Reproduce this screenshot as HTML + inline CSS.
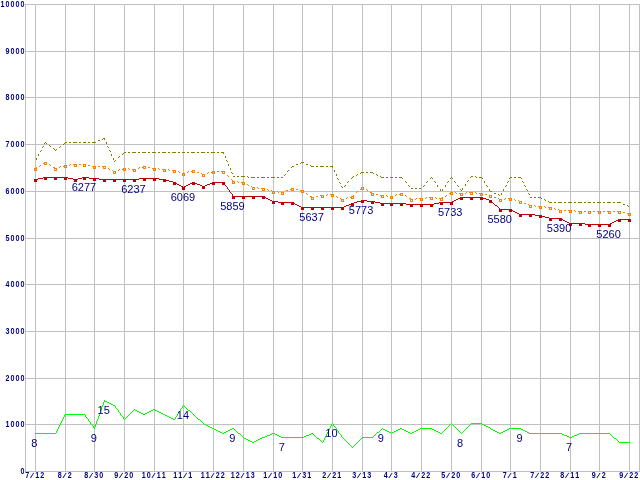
<!DOCTYPE html>
<html><head><meta charset="utf-8"><title>chart</title>
<style>
html,body{margin:0;padding:0;background:#fff;}
svg{display:block}
.ax text{font-family:"Liberation Sans",Arial,sans-serif;font-size:8.4px;font-weight:bold;fill:#000080;}
.val text{font-family:"Liberation Sans",Arial,sans-serif;font-size:11px;fill:#000080;}
</style></head><body>
<svg width="640" height="480" viewBox="0 0 640 480">
<rect width="640" height="480" fill="#fff"/>
<g shape-rendering="crispEdges">
<rect x="35" y="4" width="1" height="468" fill="#c0c0c0"/>
<rect x="65" y="4" width="1" height="468" fill="#c0c0c0"/>
<rect x="94" y="4" width="1" height="468" fill="#c0c0c0"/>
<rect x="124" y="4" width="1" height="468" fill="#c0c0c0"/>
<rect x="154" y="4" width="1" height="468" fill="#c0c0c0"/>
<rect x="183" y="4" width="1" height="468" fill="#c0c0c0"/>
<rect x="213" y="4" width="1" height="468" fill="#c0c0c0"/>
<rect x="243" y="4" width="1" height="468" fill="#c0c0c0"/>
<rect x="273" y="4" width="1" height="468" fill="#c0c0c0"/>
<rect x="302" y="4" width="1" height="468" fill="#c0c0c0"/>
<rect x="332" y="4" width="1" height="468" fill="#c0c0c0"/>
<rect x="362" y="4" width="1" height="468" fill="#c0c0c0"/>
<rect x="391" y="4" width="1" height="468" fill="#c0c0c0"/>
<rect x="421" y="4" width="1" height="468" fill="#c0c0c0"/>
<rect x="451" y="4" width="1" height="468" fill="#c0c0c0"/>
<rect x="481" y="4" width="1" height="468" fill="#c0c0c0"/>
<rect x="510" y="4" width="1" height="468" fill="#c0c0c0"/>
<rect x="540" y="4" width="1" height="468" fill="#c0c0c0"/>
<rect x="570" y="4" width="1" height="468" fill="#c0c0c0"/>
<rect x="599" y="4" width="1" height="468" fill="#c0c0c0"/>
<rect x="629" y="4" width="1" height="468" fill="#c0c0c0"/>
<rect x="25" y="4" width="1" height="468" fill="#c0c0c0"/>
<rect x="639" y="4" width="1" height="468" fill="#c0c0c0"/>
<rect x="25" y="471" width="615" height="1" fill="#c0c0c0"/>
<rect x="25" y="424" width="615" height="1" fill="#c0c0c0"/>
<rect x="25" y="378" width="615" height="1" fill="#c0c0c0"/>
<rect x="25" y="331" width="615" height="1" fill="#c0c0c0"/>
<rect x="25" y="284" width="615" height="1" fill="#c0c0c0"/>
<rect x="25" y="238" width="615" height="1" fill="#c0c0c0"/>
<rect x="25" y="191" width="615" height="1" fill="#c0c0c0"/>
<rect x="25" y="144" width="615" height="1" fill="#c0c0c0"/>
<rect x="25" y="97" width="615" height="1" fill="#c0c0c0"/>
<rect x="25" y="51" width="615" height="1" fill="#c0c0c0"/>
<rect x="25" y="4" width="615" height="1" fill="#c0c0c0"/>
<path fill="#00ff00" d="M104 400h1v1h-1zM104 401h3v1h-3zM103 402h1v1h-1zM107 402h2v1h-2zM103 403h1v1h-1zM109 403h2v1h-2zM103 404h1v1h-1zM111 404h2v1h-2zM102 405h1v1h-1zM113 405h2v1h-2zM183 405h1v1h-1zM102 406h1v1h-1zM115 406h1v1h-1zM182 406h1v1h-1zM184 406h1v1h-1zM101 407h1v1h-1zM115 407h1v1h-1zM182 407h1v1h-1zM185 407h1v1h-1zM101 408h1v1h-1zM116 408h1v1h-1zM181 408h1v1h-1zM186 408h1v1h-1zM101 409h1v1h-1zM117 409h1v1h-1zM134 409h1v1h-1zM153 409h2v1h-2zM180 409h1v1h-1zM187 409h1v1h-1zM100 410h1v1h-1zM118 410h1v1h-1zM133 410h1v1h-1zM135 410h2v1h-2zM151 410h2v1h-2zM155 410h2v1h-2zM180 410h1v1h-1zM188 410h2v1h-2zM100 411h1v1h-1zM118 411h1v1h-1zM132 411h1v1h-1zM137 411h2v1h-2zM149 411h2v1h-2zM157 411h2v1h-2zM179 411h1v1h-1zM190 411h1v1h-1zM100 412h1v1h-1zM119 412h1v1h-1zM131 412h1v1h-1zM139 412h2v1h-2zM147 412h2v1h-2zM159 412h2v1h-2zM178 412h1v1h-1zM191 412h1v1h-1zM99 413h1v1h-1zM120 413h1v1h-1zM130 413h1v1h-1zM141 413h2v1h-2zM145 413h2v1h-2zM161 413h2v1h-2zM178 413h1v1h-1zM192 413h1v1h-1zM65 414h20v1h-20zM99 414h1v1h-1zM120 414h1v1h-1zM129 414h1v1h-1zM143 414h2v1h-2zM163 414h2v1h-2zM177 414h1v1h-1zM193 414h1v1h-1zM64 415h1v1h-1zM85 415h1v1h-1zM99 415h1v1h-1zM121 415h1v1h-1zM128 415h1v1h-1zM165 415h2v1h-2zM177 415h1v1h-1zM194 415h1v1h-1zM64 416h1v1h-1zM85 416h1v1h-1zM98 416h1v1h-1zM122 416h1v1h-1zM127 416h1v1h-1zM167 416h2v1h-2zM176 416h1v1h-1zM195 416h1v1h-1zM63 417h1v1h-1zM86 417h1v1h-1zM98 417h1v1h-1zM123 417h1v1h-1zM126 417h1v1h-1zM169 417h2v1h-2zM175 417h1v1h-1zM196 417h1v1h-1zM63 418h1v1h-1zM87 418h1v1h-1zM98 418h1v1h-1zM123 418h1v1h-1zM125 418h1v1h-1zM171 418h2v1h-2zM175 418h1v1h-1zM197 418h1v1h-1zM62 419h1v1h-1zM88 419h1v1h-1zM97 419h1v1h-1zM124 419h1v1h-1zM173 419h2v1h-2zM198 419h2v1h-2zM62 420h1v1h-1zM88 420h1v1h-1zM97 420h1v1h-1zM200 420h1v1h-1zM61 421h1v1h-1zM89 421h1v1h-1zM96 421h1v1h-1zM201 421h1v1h-1zM61 422h1v1h-1zM90 422h1v1h-1zM96 422h1v1h-1zM202 422h1v1h-1zM60 423h1v1h-1zM90 423h1v1h-1zM96 423h1v1h-1zM203 423h1v1h-1zM332 423h1v1h-1zM451 423h1v1h-1zM471 423h11v1h-11zM60 424h1v1h-1zM91 424h1v1h-1zM95 424h1v1h-1zM204 424h2v1h-2zM331 424h1v1h-1zM333 424h1v1h-1zM450 424h1v1h-1zM452 424h1v1h-1zM470 424h1v1h-1zM482 424h2v1h-2zM59 425h1v1h-1zM92 425h1v1h-1zM95 425h1v1h-1zM206 425h2v1h-2zM331 425h1v1h-1zM333 425h1v1h-1zM449 425h1v1h-1zM453 425h1v1h-1zM469 425h1v1h-1zM484 425h2v1h-2zM59 426h1v1h-1zM93 426h1v1h-1zM95 426h1v1h-1zM208 426h2v1h-2zM330 426h1v1h-1zM334 426h1v1h-1zM448 426h1v1h-1zM454 426h1v1h-1zM468 426h1v1h-1zM486 426h2v1h-2zM58 427h1v1h-1zM93 427h2v1h-2zM210 427h2v1h-2zM330 427h1v1h-1zM335 427h1v1h-1zM447 427h1v1h-1zM455 427h1v1h-1zM467 427h1v1h-1zM488 427h2v1h-2zM58 428h1v1h-1zM94 428h1v1h-1zM212 428h2v1h-2zM232 428h2v1h-2zM329 428h1v1h-1zM336 428h1v1h-1zM382 428h1v1h-1zM400 428h2v1h-2zM420 428h12v1h-12zM446 428h1v1h-1zM456 428h1v1h-1zM466 428h1v1h-1zM490 428h1v1h-1zM509 428h12v1h-12zM57 429h1v1h-1zM214 429h2v1h-2zM230 429h2v1h-2zM234 429h1v1h-1zM329 429h1v1h-1zM336 429h1v1h-1zM381 429h1v1h-1zM383 429h2v1h-2zM398 429h2v1h-2zM402 429h2v1h-2zM418 429h2v1h-2zM432 429h2v1h-2zM445 429h1v1h-1zM457 429h1v1h-1zM465 429h1v1h-1zM491 429h2v1h-2zM507 429h2v1h-2zM521 429h2v1h-2zM57 430h1v1h-1zM216 430h2v1h-2zM228 430h2v1h-2zM235 430h1v1h-1zM328 430h1v1h-1zM337 430h1v1h-1zM380 430h1v1h-1zM385 430h2v1h-2zM396 430h2v1h-2zM404 430h2v1h-2zM416 430h2v1h-2zM434 430h2v1h-2zM444 430h1v1h-1zM458 430h1v1h-1zM464 430h1v1h-1zM493 430h2v1h-2zM505 430h2v1h-2zM523 430h2v1h-2zM56 431h1v1h-1zM218 431h2v1h-2zM226 431h2v1h-2zM236 431h1v1h-1zM328 431h1v1h-1zM338 431h1v1h-1zM379 431h1v1h-1zM387 431h2v1h-2zM394 431h2v1h-2zM406 431h2v1h-2zM414 431h2v1h-2zM436 431h2v1h-2zM443 431h1v1h-1zM459 431h1v1h-1zM463 431h1v1h-1zM495 431h2v1h-2zM503 431h2v1h-2zM525 431h2v1h-2zM56 432h1v1h-1zM220 432h2v1h-2zM224 432h2v1h-2zM237 432h1v1h-1zM327 432h1v1h-1zM338 432h1v1h-1zM377 432h2v1h-2zM389 432h2v1h-2zM392 432h2v1h-2zM408 432h2v1h-2zM412 432h2v1h-2zM438 432h2v1h-2zM442 432h1v1h-1zM460 432h1v1h-1zM462 432h1v1h-1zM497 432h2v1h-2zM501 432h2v1h-2zM527 432h2v1h-2zM35 433h21v1h-21zM222 433h2v1h-2zM238 433h2v1h-2zM272 433h3v1h-3zM311 433h2v1h-2zM327 433h1v1h-1zM339 433h1v1h-1zM376 433h1v1h-1zM391 433h1v1h-1zM410 433h2v1h-2zM440 433h2v1h-2zM461 433h1v1h-1zM499 433h2v1h-2zM529 433h33v1h-33zM579 433h31v1h-31zM240 434h1v1h-1zM270 434h2v1h-2zM275 434h2v1h-2zM309 434h2v1h-2zM313 434h1v1h-1zM326 434h1v1h-1zM340 434h1v1h-1zM375 434h1v1h-1zM562 434h2v1h-2zM577 434h2v1h-2zM610 434h1v1h-1zM241 435h1v1h-1zM267 435h3v1h-3zM277 435h2v1h-2zM306 435h3v1h-3zM314 435h1v1h-1zM326 435h1v1h-1zM341 435h1v1h-1zM374 435h1v1h-1zM564 435h3v1h-3zM574 435h3v1h-3zM611 435h1v1h-1zM242 436h1v1h-1zM265 436h2v1h-2zM279 436h2v1h-2zM304 436h2v1h-2zM315 436h1v1h-1zM325 436h1v1h-1zM341 436h1v1h-1zM373 436h1v1h-1zM567 436h2v1h-2zM572 436h2v1h-2zM612 436h1v1h-1zM243 437h1v1h-1zM262 437h3v1h-3zM281 437h23v1h-23zM316 437h1v1h-1zM325 437h1v1h-1zM342 437h1v1h-1zM362 437h11v1h-11zM569 437h3v1h-3zM613 437h1v1h-1zM244 438h2v1h-2zM260 438h2v1h-2zM317 438h2v1h-2zM324 438h1v1h-1zM343 438h1v1h-1zM361 438h1v1h-1zM614 438h2v1h-2zM246 439h2v1h-2zM258 439h2v1h-2zM319 439h1v1h-1zM324 439h1v1h-1zM344 439h1v1h-1zM360 439h1v1h-1zM616 439h1v1h-1zM248 440h2v1h-2zM256 440h2v1h-2zM320 440h1v1h-1zM323 440h1v1h-1zM345 440h1v1h-1zM359 440h1v1h-1zM617 440h1v1h-1zM250 441h2v1h-2zM254 441h2v1h-2zM321 441h1v1h-1zM323 441h1v1h-1zM346 441h1v1h-1zM358 441h1v1h-1zM618 441h1v1h-1zM252 442h2v1h-2zM322 442h1v1h-1zM347 442h1v1h-1zM357 442h1v1h-1zM619 442h11v1h-11zM348 443h1v1h-1zM356 443h1v1h-1zM349 444h1v1h-1zM355 444h1v1h-1zM350 445h1v1h-1zM354 445h1v1h-1zM351 446h1v1h-1zM353 446h1v1h-1zM352 447h1v1h-1z"/>
<path fill="#808000" d="M103 138h2v1h-2zM102 139h1v1h-1zM104 139h1v1h-1zM98 140h2v1h-2zM45 142h1v1h-1zM65 142h2v1h-2zM69 142h2v1h-2zM73 142h4v1h-4zM79 142h2v1h-2zM83 142h3v1h-3zM88 142h2v1h-2zM92 142h4v1h-4zM106 142h1v1h-1zM44 143h1v1h-1zM46 143h1v1h-1zM64 143h1v1h-1zM106 143h1v1h-1zM63 144h1v1h-1zM49 145h1v1h-1zM43 146h1v1h-1zM50 146h1v1h-1zM60 146h1v1h-1zM107 146h1v1h-1zM42 147h1v1h-1zM59 147h1v1h-1zM108 147h1v1h-1zM53 148h1v1h-1zM54 149h1v1h-1zM56 149h1v1h-1zM41 150h1v1h-1zM55 150h1v1h-1zM109 150h1v1h-1zM40 151h1v1h-1zM110 151h1v1h-1zM124 152h2v1h-2zM128 152h2v1h-2zM132 152h4v1h-4zM138 152h2v1h-2zM142 152h4v1h-4zM148 152h2v1h-2zM152 152h4v1h-4zM158 152h2v1h-2zM162 152h4v1h-4zM168 152h2v1h-2zM172 152h4v1h-4zM178 152h2v1h-2zM182 152h3v1h-3zM187 152h2v1h-2zM191 152h4v1h-4zM197 152h2v1h-2zM201 152h4v1h-4zM207 152h2v1h-2zM211 152h4v1h-4zM217 152h2v1h-2zM221 152h3v1h-3zM123 153h1v1h-1zM223 153h1v1h-1zM38 154h1v1h-1zM111 154h1v1h-1zM122 154h1v1h-1zM38 155h1v1h-1zM111 155h1v1h-1zM119 156h1v1h-1zM225 156h1v1h-1zM118 157h1v1h-1zM225 157h1v1h-1zM36 158h1v1h-1zM113 158h1v1h-1zM36 159h1v1h-1zM113 159h1v1h-1zM115 160h1v1h-1zM226 160h1v1h-1zM114 161h1v1h-1zM227 161h1v1h-1zM301 162h3v1h-3zM300 163h1v1h-1zM228 164h1v1h-1zM296 164h2v1h-2zM306 164h2v1h-2zM228 165h1v1h-1zM310 165h1v1h-1zM292 166h2v1h-2zM311 166h3v1h-3zM316 166h2v1h-2zM320 166h4v1h-4zM326 166h2v1h-2zM330 166h3v1h-3zM291 167h1v1h-1zM332 167h1v1h-1zM230 168h1v1h-1zM230 169h1v1h-1zM288 170h1v1h-1zM334 170h1v1h-1zM287 171h1v1h-1zM334 171h1v1h-1zM231 172h1v1h-1zM361 172h3v1h-3zM366 172h2v1h-2zM370 172h3v1h-3zM232 173h1v1h-1zM360 173h1v1h-1zM373 173h1v1h-1zM285 174h1v1h-1zM336 174h1v1h-1zM357 174h1v1h-1zM376 174h1v1h-1zM284 175h1v1h-1zM336 175h1v1h-1zM356 175h1v1h-1zM377 175h1v1h-1zM233 176h2v1h-2zM237 176h2v1h-2zM241 176h4v1h-4zM247 176h1v1h-1zM353 176h1v1h-1zM380 176h1v1h-1zM471 176h2v1h-2zM475 176h1v1h-1zM248 177h1v1h-1zM251 177h4v1h-4zM257 177h2v1h-2zM261 177h4v1h-4zM267 177h2v1h-2zM271 177h4v1h-4zM277 177h2v1h-2zM281 177h2v1h-2zM352 177h1v1h-1zM381 177h3v1h-3zM386 177h2v1h-2zM390 177h3v1h-3zM395 177h2v1h-2zM399 177h3v1h-3zM431 177h1v1h-1zM451 177h1v1h-1zM470 177h1v1h-1zM476 177h1v1h-1zM479 177h3v1h-3zM510 177h2v1h-2zM514 177h2v1h-2zM518 177h3v1h-3zM337 178h1v1h-1zM351 178h1v1h-1zM402 178h1v1h-1zM430 178h1v1h-1zM432 178h1v1h-1zM450 178h1v1h-1zM452 178h1v1h-1zM482 178h1v1h-1zM509 178h1v1h-1zM521 178h1v1h-1zM338 179h1v1h-1zM468 180h1v1h-1zM348 181h1v1h-1zM405 181h1v1h-1zM427 181h1v1h-1zM434 181h1v1h-1zM448 181h1v1h-1zM454 181h1v1h-1zM467 181h1v1h-1zM484 181h1v1h-1zM508 181h1v1h-1zM522 181h1v1h-1zM339 182h1v1h-1zM347 182h1v1h-1zM406 182h1v1h-1zM426 182h1v1h-1zM435 182h1v1h-1zM447 182h1v1h-1zM455 182h1v1h-1zM484 182h1v1h-1zM507 182h1v1h-1zM523 182h1v1h-1zM340 183h1v1h-1zM465 184h1v1h-1zM345 185h1v1h-1zM408 185h1v1h-1zM424 185h1v1h-1zM437 185h1v1h-1zM445 185h1v1h-1zM457 185h1v1h-1zM465 185h1v1h-1zM486 185h1v1h-1zM506 185h1v1h-1zM524 185h1v1h-1zM341 186h1v1h-1zM344 186h1v1h-1zM409 186h1v1h-1zM423 186h1v1h-1zM437 186h1v1h-1zM445 186h1v1h-1zM458 186h1v1h-1zM487 186h1v1h-1zM505 186h1v1h-1zM525 186h1v1h-1zM342 187h1v1h-1zM411 188h2v1h-2zM415 188h2v1h-2zM419 188h2v1h-2zM462 188h1v1h-1zM440 189h1v1h-1zM442 189h1v1h-1zM460 189h1v1h-1zM462 189h1v1h-1zM489 189h1v1h-1zM503 189h1v1h-1zM526 189h1v1h-1zM440 190h1v1h-1zM442 190h1v1h-1zM461 190h1v1h-1zM489 190h1v1h-1zM503 190h1v1h-1zM527 190h1v1h-1zM490 191h2v1h-2zM494 193h2v1h-2zM501 193h1v1h-1zM528 193h1v1h-1zM498 194h1v1h-1zM501 194h1v1h-1zM529 194h1v1h-1zM499 195h1v1h-1zM530 197h2v1h-2zM534 197h2v1h-2zM538 197h3v1h-3zM541 198h1v1h-1zM544 199h1v1h-1zM545 200h1v1h-1zM548 201h1v1h-1zM549 202h3v1h-3zM554 202h2v1h-2zM558 202h4v1h-4zM564 202h2v1h-2zM568 202h4v1h-4zM574 202h2v1h-2zM578 202h4v1h-4zM584 202h2v1h-2zM588 202h3v1h-3zM593 202h2v1h-2zM597 202h4v1h-4zM603 202h2v1h-2zM607 202h4v1h-4zM613 202h2v1h-2zM617 202h4v1h-4zM623 204h2v1h-2zM627 205h1v1h-1zM628 206h1v1h-1z"/>
<path fill="#ff8000" d="M45 162h1v1h-1zM43 163h2v1h-2zM46 163h1v1h-1zM49 164h1v1h-1zM70 164h1v1h-1zM73 164h4v1h-4zM79 164h2v1h-2zM83 164h3v1h-3zM40 165h1v1h-1zM50 165h1v1h-1zM64 165h3v1h-3zM69 165h1v1h-1zM88 165h2v1h-2zM39 166h1v1h-1zM60 166h1v1h-1zM63 166h1v1h-1zM92 166h4v1h-4zM98 166h2v1h-2zM102 166h3v1h-3zM143 166h3v1h-3zM36 167h1v1h-1zM53 167h2v1h-2zM59 167h1v1h-1zM105 167h1v1h-1zM139 167h1v1h-1zM142 167h1v1h-1zM148 167h2v1h-2zM35 168h1v1h-1zM55 168h2v1h-2zM108 168h1v1h-1zM123 168h3v1h-3zM128 168h1v1h-1zM138 168h1v1h-1zM152 168h4v1h-4zM158 168h1v1h-1zM109 169h1v1h-1zM119 169h1v1h-1zM122 169h1v1h-1zM129 169h1v1h-1zM132 169h4v1h-4zM159 169h1v1h-1zM162 169h4v1h-4zM168 169h1v1h-1zM112 170h1v1h-1zM118 170h1v1h-1zM169 170h1v1h-1zM172 170h4v1h-4zM192 170h3v1h-3zM113 171h3v1h-3zM178 171h1v1h-1zM188 171h1v1h-1zM191 171h1v1h-1zM212 171h3v1h-3zM217 171h2v1h-2zM221 171h3v1h-3zM179 172h1v1h-1zM187 172h1v1h-1zM197 172h2v1h-2zM208 172h1v1h-1zM211 172h1v1h-1zM224 172h1v1h-1zM182 173h3v1h-3zM201 173h1v1h-1zM207 173h1v1h-1zM202 174h3v1h-3zM227 175h1v1h-1zM228 176h1v1h-1zM231 179h1v1h-1zM232 180h1v1h-1zM233 181h2v1h-2zM237 181h1v1h-1zM238 182h1v1h-1zM241 182h3v1h-3zM244 183h1v1h-1zM247 184h1v1h-1zM248 185h1v1h-1zM251 186h1v1h-1zM252 187h3v1h-3zM257 187h1v1h-1zM362 187h1v1h-1zM258 188h1v1h-1zM261 188h4v1h-4zM291 188h3v1h-3zM361 188h1v1h-1zM363 188h1v1h-1zM267 189h1v1h-1zM290 189h1v1h-1zM296 189h2v1h-2zM360 189h1v1h-1zM366 189h1v1h-1zM268 190h1v1h-1zM271 190h1v1h-1zM286 190h2v1h-2zM300 190h3v1h-3zM367 190h1v1h-1zM272 191h3v1h-3zM277 191h1v1h-1zM303 191h1v1h-1zM357 191h1v1h-1zM278 192h1v1h-1zM281 192h3v1h-3zM356 192h1v1h-1zM370 192h2v1h-2zM451 192h2v1h-2zM455 192h1v1h-1zM466 192h1v1h-1zM469 192h4v1h-4zM475 192h1v1h-1zM306 193h1v1h-1zM372 193h2v1h-2zM400 193h2v1h-2zM449 193h2v1h-2zM456 193h1v1h-1zM459 193h4v1h-4zM465 193h1v1h-1zM476 193h1v1h-1zM479 193h4v1h-4zM307 194h1v1h-1zM327 194h1v1h-1zM330 194h3v1h-3zM376 194h2v1h-2zM396 194h1v1h-1zM399 194h1v1h-1zM402 194h1v1h-1zM485 194h2v1h-2zM320 195h4v1h-4zM326 195h1v1h-1zM333 195h1v1h-1zM353 195h1v1h-1zM380 195h4v1h-4zM386 195h1v1h-1zM395 195h1v1h-1zM405 195h1v1h-1zM446 195h1v1h-1zM489 195h3v1h-3zM310 196h2v1h-2zM316 196h2v1h-2zM336 196h1v1h-1zM351 196h2v1h-2zM387 196h1v1h-1zM390 196h3v1h-3zM406 196h1v1h-1zM445 196h1v1h-1zM312 197h2v1h-2zM337 197h1v1h-1zM347 197h1v1h-1zM350 197h1v1h-1zM426 197h1v1h-1zM429 197h4v1h-4zM435 197h1v1h-1zM442 197h1v1h-1zM494 197h2v1h-2zM340 198h1v1h-1zM346 198h1v1h-1zM409 198h2v1h-2zM416 198h1v1h-1zM419 198h4v1h-4zM425 198h1v1h-1zM436 198h1v1h-1zM439 198h3v1h-3zM498 198h1v1h-1zM505 198h1v1h-1zM508 198h4v1h-4zM341 199h3v1h-3zM411 199h2v1h-2zM415 199h1v1h-1zM499 199h3v1h-3zM504 199h1v1h-1zM514 199h1v1h-1zM515 200h1v1h-1zM518 200h1v1h-1zM519 201h3v1h-3zM524 203h2v1h-2zM528 204h1v1h-1zM529 205h3v1h-3zM534 205h1v1h-1zM535 206h1v1h-1zM538 206h4v1h-4zM544 206h1v1h-1zM545 207h1v1h-1zM548 207h4v1h-4zM554 208h1v1h-1zM555 209h1v1h-1zM558 209h1v1h-1zM559 210h3v1h-3zM564 210h2v1h-2zM568 210h4v1h-4zM574 210h1v1h-1zM575 211h1v1h-1zM578 211h4v1h-4zM584 211h2v1h-2zM588 211h3v1h-3zM593 211h2v1h-2zM597 211h4v1h-4zM603 211h2v1h-2zM607 211h4v1h-4zM613 211h2v1h-2zM617 211h4v1h-4zM623 212h2v1h-2zM627 213h2v1h-2z"/>
<path fill="#ff8000" d="M44 162h3v1h-3zM44 163h1v1h-1zM46 163h1v1h-1zM44 164h3v1h-3zM74 164h3v1h-3zM83 164h3v1h-3zM64 165h3v1h-3zM74 165h1v1h-1zM76 165h1v1h-1zM83 165h1v1h-1zM85 165h1v1h-1zM64 166h1v1h-1zM66 166h1v1h-1zM74 166h3v1h-3zM83 166h3v1h-3zM93 166h3v1h-3zM103 166h3v1h-3zM143 166h3v1h-3zM64 167h3v1h-3zM93 167h1v1h-1zM95 167h1v1h-1zM103 167h1v1h-1zM105 167h1v1h-1zM143 167h1v1h-1zM145 167h1v1h-1zM34 168h3v1h-3zM54 168h3v1h-3zM93 168h3v1h-3zM103 168h3v1h-3zM123 168h3v1h-3zM143 168h3v1h-3zM153 168h3v1h-3zM34 169h1v1h-1zM36 169h1v1h-1zM54 169h1v1h-1zM56 169h1v1h-1zM123 169h1v1h-1zM125 169h1v1h-1zM133 169h3v1h-3zM153 169h1v1h-1zM155 169h1v1h-1zM163 169h3v1h-3zM34 170h3v1h-3zM54 170h3v1h-3zM123 170h3v1h-3zM133 170h1v1h-1zM135 170h1v1h-1zM153 170h3v1h-3zM163 170h1v1h-1zM165 170h1v1h-1zM173 170h3v1h-3zM192 170h3v1h-3zM113 171h3v1h-3zM133 171h3v1h-3zM163 171h3v1h-3zM173 171h1v1h-1zM175 171h1v1h-1zM192 171h1v1h-1zM194 171h1v1h-1zM212 171h3v1h-3zM222 171h3v1h-3zM113 172h1v1h-1zM115 172h1v1h-1zM173 172h3v1h-3zM192 172h3v1h-3zM212 172h1v1h-1zM214 172h1v1h-1zM222 172h1v1h-1zM224 172h1v1h-1zM113 173h3v1h-3zM182 173h3v1h-3zM212 173h3v1h-3zM222 173h3v1h-3zM182 174h1v1h-1zM184 174h1v1h-1zM202 174h3v1h-3zM182 175h3v1h-3zM202 175h1v1h-1zM204 175h1v1h-1zM202 176h3v1h-3zM232 181h3v1h-3zM232 182h1v1h-1zM234 182h1v1h-1zM242 182h3v1h-3zM232 183h3v1h-3zM242 183h1v1h-1zM244 183h1v1h-1zM242 184h3v1h-3zM252 187h3v1h-3zM361 187h3v1h-3zM252 188h1v1h-1zM254 188h1v1h-1zM262 188h3v1h-3zM291 188h3v1h-3zM361 188h1v1h-1zM363 188h1v1h-1zM252 189h3v1h-3zM262 189h1v1h-1zM264 189h1v1h-1zM291 189h1v1h-1zM293 189h1v1h-1zM361 189h3v1h-3zM262 190h3v1h-3zM291 190h3v1h-3zM301 190h3v1h-3zM272 191h3v1h-3zM301 191h1v1h-1zM303 191h1v1h-1zM272 192h1v1h-1zM274 192h1v1h-1zM281 192h3v1h-3zM301 192h3v1h-3zM450 192h3v1h-3zM470 192h3v1h-3zM272 193h3v1h-3zM281 193h1v1h-1zM283 193h1v1h-1zM371 193h3v1h-3zM400 193h3v1h-3zM450 193h1v1h-1zM452 193h1v1h-1zM460 193h3v1h-3zM470 193h1v1h-1zM472 193h1v1h-1zM480 193h3v1h-3zM281 194h3v1h-3zM331 194h3v1h-3zM371 194h1v1h-1zM373 194h1v1h-1zM400 194h1v1h-1zM402 194h1v1h-1zM450 194h3v1h-3zM460 194h1v1h-1zM462 194h1v1h-1zM470 194h3v1h-3zM480 194h1v1h-1zM482 194h1v1h-1zM321 195h3v1h-3zM331 195h1v1h-1zM333 195h1v1h-1zM371 195h3v1h-3zM381 195h3v1h-3zM400 195h3v1h-3zM460 195h3v1h-3zM480 195h3v1h-3zM489 195h3v1h-3zM321 196h1v1h-1zM323 196h1v1h-1zM331 196h3v1h-3zM351 196h3v1h-3zM381 196h1v1h-1zM383 196h1v1h-1zM390 196h3v1h-3zM489 196h1v1h-1zM491 196h1v1h-1zM311 197h3v1h-3zM321 197h3v1h-3zM351 197h1v1h-1zM353 197h1v1h-1zM381 197h3v1h-3zM390 197h1v1h-1zM392 197h1v1h-1zM430 197h3v1h-3zM489 197h3v1h-3zM311 198h1v1h-1zM313 198h1v1h-1zM351 198h3v1h-3zM390 198h3v1h-3zM420 198h3v1h-3zM430 198h1v1h-1zM432 198h1v1h-1zM440 198h3v1h-3zM509 198h3v1h-3zM311 199h3v1h-3zM341 199h3v1h-3zM410 199h3v1h-3zM420 199h1v1h-1zM422 199h1v1h-1zM430 199h3v1h-3zM440 199h1v1h-1zM442 199h1v1h-1zM499 199h3v1h-3zM509 199h1v1h-1zM511 199h1v1h-1zM341 200h1v1h-1zM343 200h1v1h-1zM410 200h1v1h-1zM412 200h1v1h-1zM420 200h3v1h-3zM440 200h3v1h-3zM499 200h1v1h-1zM501 200h1v1h-1zM509 200h3v1h-3zM341 201h3v1h-3zM410 201h3v1h-3zM499 201h3v1h-3zM519 201h3v1h-3zM519 202h1v1h-1zM521 202h1v1h-1zM519 203h3v1h-3zM529 205h3v1h-3zM529 206h1v1h-1zM531 206h1v1h-1zM539 206h3v1h-3zM529 207h3v1h-3zM539 207h1v1h-1zM541 207h1v1h-1zM549 207h3v1h-3zM539 208h3v1h-3zM549 208h1v1h-1zM551 208h1v1h-1zM549 209h3v1h-3zM559 210h3v1h-3zM569 210h3v1h-3zM559 211h1v1h-1zM561 211h1v1h-1zM569 211h1v1h-1zM571 211h1v1h-1zM579 211h3v1h-3zM588 211h3v1h-3zM598 211h3v1h-3zM608 211h3v1h-3zM618 211h3v1h-3zM559 212h3v1h-3zM569 212h3v1h-3zM579 212h1v1h-1zM581 212h1v1h-1zM588 212h1v1h-1zM590 212h1v1h-1zM598 212h1v1h-1zM600 212h1v1h-1zM608 212h1v1h-1zM610 212h1v1h-1zM618 212h1v1h-1zM620 212h1v1h-1zM579 213h3v1h-3zM588 213h3v1h-3zM598 213h3v1h-3zM608 213h3v1h-3zM618 213h3v1h-3zM628 213h3v1h-3zM628 214h1v1h-1zM630 214h1v1h-1zM628 215h3v1h-3z"/>
<path fill="#c00000" d="M43 177h25v1h-25zM82 177h7v1h-7zM38 178h5v1h-5zM68 178h5v1h-5zM78 178h4v1h-4zM89 178h10v1h-10zM139 178h20v1h-20zM35 179h3v1h-3zM73 179h5v1h-5zM99 179h40v1h-40zM159 179h7v1h-7zM166 180h3v1h-3zM169 181h4v1h-4zM173 182h2v1h-2zM192 182h3v1h-3zM212 182h12v1h-12zM175 183h2v1h-2zM190 183h2v1h-2zM195 183h2v1h-2zM210 183h2v1h-2zM224 183h1v1h-1zM177 184h2v1h-2zM188 184h2v1h-2zM197 184h3v1h-3zM207 184h3v1h-3zM224 184h1v1h-1zM179 185h2v1h-2zM186 185h2v1h-2zM200 185h2v1h-2zM205 185h2v1h-2zM225 185h1v1h-1zM181 186h2v1h-2zM184 186h2v1h-2zM202 186h3v1h-3zM226 186h1v1h-1zM183 187h1v1h-1zM227 187h1v1h-1zM227 188h1v1h-1zM228 189h1v1h-1zM229 190h1v1h-1zM229 191h1v1h-1zM230 192h1v1h-1zM231 193h1v1h-1zM232 194h1v1h-1zM232 195h1v1h-1zM233 196h31v1h-31zM264 197h2v1h-2zM460 197h23v1h-23zM266 198h2v1h-2zM458 198h2v1h-2zM483 198h3v1h-3zM268 199h2v1h-2zM456 199h2v1h-2zM486 199h3v1h-3zM270 200h2v1h-2zM361 200h6v1h-6zM454 200h2v1h-2zM489 200h2v1h-2zM272 201h6v1h-6zM357 201h4v1h-4zM367 201h8v1h-8zM452 201h2v1h-2zM491 201h1v1h-1zM278 202h15v1h-15zM354 202h3v1h-3zM375 202h5v1h-5zM439 202h13v1h-13zM492 202h1v1h-1zM293 203h2v1h-2zM351 203h3v1h-3zM380 203h26v1h-26zM434 203h5v1h-5zM493 203h1v1h-1zM295 204h2v1h-2zM349 204h2v1h-2zM406 204h28v1h-28zM494 204h1v1h-1zM297 205h2v1h-2zM346 205h3v1h-3zM495 205h2v1h-2zM299 206h2v1h-2zM344 206h2v1h-2zM497 206h1v1h-1zM301 207h43v1h-43zM498 207h1v1h-1zM499 208h1v1h-1zM500 209h11v1h-11zM511 210h2v1h-2zM513 211h2v1h-2zM515 212h2v1h-2zM517 213h2v1h-2zM519 214h16v1h-16zM535 215h7v1h-7zM542 216h3v1h-3zM545 217h4v1h-4zM549 218h12v1h-12zM561 219h2v1h-2zM618 219h12v1h-12zM563 220h2v1h-2zM616 220h2v1h-2zM565 221h2v1h-2zM614 221h2v1h-2zM567 222h2v1h-2zM612 222h2v1h-2zM569 223h16v1h-16zM610 223h2v1h-2zM585 224h25v1h-25z"/>
<path fill="#c00000" d="M44 177h3v1h-3zM54 177h3v1h-3zM64 177h3v1h-3zM83 177h3v1h-3zM44 178h3v1h-3zM54 178h3v1h-3zM64 178h3v1h-3zM83 178h3v1h-3zM93 178h3v1h-3zM143 178h3v1h-3zM153 178h3v1h-3zM34 179h3v1h-3zM44 179h3v1h-3zM54 179h3v1h-3zM64 179h3v1h-3zM74 179h3v1h-3zM83 179h3v1h-3zM93 179h3v1h-3zM103 179h3v1h-3zM113 179h3v1h-3zM123 179h3v1h-3zM133 179h3v1h-3zM143 179h3v1h-3zM153 179h3v1h-3zM163 179h3v1h-3zM34 180h3v1h-3zM74 180h3v1h-3zM93 180h3v1h-3zM103 180h3v1h-3zM113 180h3v1h-3zM123 180h3v1h-3zM133 180h3v1h-3zM143 180h3v1h-3zM153 180h3v1h-3zM163 180h3v1h-3zM34 181h3v1h-3zM74 181h3v1h-3zM103 181h3v1h-3zM113 181h3v1h-3zM123 181h3v1h-3zM133 181h3v1h-3zM163 181h3v1h-3zM173 182h3v1h-3zM192 182h3v1h-3zM212 182h3v1h-3zM222 182h3v1h-3zM173 183h3v1h-3zM192 183h3v1h-3zM212 183h3v1h-3zM222 183h3v1h-3zM173 184h3v1h-3zM192 184h3v1h-3zM212 184h3v1h-3zM222 184h3v1h-3zM202 186h3v1h-3zM182 187h3v1h-3zM202 187h3v1h-3zM182 188h3v1h-3zM202 188h3v1h-3zM182 189h3v1h-3zM232 196h3v1h-3zM242 196h3v1h-3zM252 196h3v1h-3zM262 196h3v1h-3zM232 197h3v1h-3zM242 197h3v1h-3zM252 197h3v1h-3zM262 197h3v1h-3zM460 197h3v1h-3zM470 197h3v1h-3zM480 197h3v1h-3zM232 198h3v1h-3zM242 198h3v1h-3zM252 198h3v1h-3zM262 198h3v1h-3zM460 198h3v1h-3zM470 198h3v1h-3zM480 198h3v1h-3zM460 199h3v1h-3zM470 199h3v1h-3zM480 199h3v1h-3zM361 200h3v1h-3zM489 200h3v1h-3zM272 201h3v1h-3zM361 201h3v1h-3zM371 201h3v1h-3zM489 201h3v1h-3zM272 202h3v1h-3zM281 202h3v1h-3zM291 202h3v1h-3zM361 202h3v1h-3zM371 202h3v1h-3zM440 202h3v1h-3zM450 202h3v1h-3zM489 202h3v1h-3zM272 203h3v1h-3zM281 203h3v1h-3zM291 203h3v1h-3zM351 203h3v1h-3zM371 203h3v1h-3zM381 203h3v1h-3zM390 203h3v1h-3zM400 203h3v1h-3zM440 203h3v1h-3zM450 203h3v1h-3zM281 204h3v1h-3zM291 204h3v1h-3zM351 204h3v1h-3zM381 204h3v1h-3zM390 204h3v1h-3zM400 204h3v1h-3zM410 204h3v1h-3zM420 204h3v1h-3zM430 204h3v1h-3zM440 204h3v1h-3zM450 204h3v1h-3zM351 205h3v1h-3zM381 205h3v1h-3zM390 205h3v1h-3zM400 205h3v1h-3zM410 205h3v1h-3zM420 205h3v1h-3zM430 205h3v1h-3zM410 206h3v1h-3zM420 206h3v1h-3zM430 206h3v1h-3zM301 207h3v1h-3zM311 207h3v1h-3zM321 207h3v1h-3zM331 207h3v1h-3zM341 207h3v1h-3zM301 208h3v1h-3zM311 208h3v1h-3zM321 208h3v1h-3zM331 208h3v1h-3zM341 208h3v1h-3zM301 209h3v1h-3zM311 209h3v1h-3zM321 209h3v1h-3zM331 209h3v1h-3zM341 209h3v1h-3zM499 209h3v1h-3zM509 209h3v1h-3zM499 210h3v1h-3zM509 210h3v1h-3zM499 211h3v1h-3zM509 211h3v1h-3zM519 214h3v1h-3zM529 214h3v1h-3zM519 215h3v1h-3zM529 215h3v1h-3zM539 215h3v1h-3zM519 216h3v1h-3zM529 216h3v1h-3zM539 216h3v1h-3zM539 217h3v1h-3zM549 218h3v1h-3zM559 218h3v1h-3zM549 219h3v1h-3zM559 219h3v1h-3zM618 219h3v1h-3zM628 219h3v1h-3zM549 220h3v1h-3zM559 220h3v1h-3zM618 220h3v1h-3zM628 220h3v1h-3zM618 221h3v1h-3zM628 221h3v1h-3zM569 223h3v1h-3zM579 223h3v1h-3zM569 224h3v1h-3zM579 224h3v1h-3zM588 224h3v1h-3zM598 224h3v1h-3zM608 224h3v1h-3zM569 225h3v1h-3zM579 225h3v1h-3zM588 225h3v1h-3zM598 225h3v1h-3zM608 225h3v1h-3zM588 226h3v1h-3zM598 226h3v1h-3zM608 226h3v1h-3z"/>
</g>
<g class="ax" text-anchor="middle" transform="scale(0.85,1)">
<text x="26.47" y="474">0</text>
<text x="8.82 14.71 20.59 26.47" y="427">1000</text>
<text x="8.82 14.71 20.59 26.47" y="381">2000</text>
<text x="8.82 14.71 20.59 26.47" y="334">3000</text>
<text x="8.82 14.71 20.59 26.47" y="287">4000</text>
<text x="8.82 14.71 20.59 26.47" y="241">5000</text>
<text x="8.82 14.71 20.59 26.47" y="194">6000</text>
<text x="8.82 14.71 20.59 26.47" y="147">7000</text>
<text x="8.82 14.71 20.59 26.47" y="100">8000</text>
<text x="8.82 14.71 20.59 26.47" y="54">9000</text>
<text x="2.94 8.82 14.71 20.59 26.47" y="7">10000</text>
<text x="32.12 36.59 43.88 49.76" y="478 477.5 478 478" rotate="0 27 0 0">7/12</text>
<text x="70.35 74.82 82.12" y="478 477.5 478" rotate="0 27 0">8/2</text>
<text x="101.53 106.00 113.29 119.18" y="478 477.5 478 478" rotate="0 27 0 0">8/30</text>
<text x="136.82 141.29 148.59 154.47" y="478 477.5 478 478" rotate="0 27 0 0">9/20</text>
<text x="169.18 175.06 179.53 186.82 192.71" y="478 478 477.5 478 478" rotate="0 0 27 0 0">10/11</text>
<text x="206.24 212.12 216.59 223.88" y="478 478 477.5 478" rotate="0 0 27 0">11/1</text>
<text x="238.59 244.47 248.94 256.24 262.12" y="478 478 477.5 478 478" rotate="0 0 27 0 0">11/22</text>
<text x="273.88 279.76 284.24 291.53 297.41" y="478 478 477.5 478 478" rotate="0 0 27 0 0">12/13</text>
<text x="312.12 316.59 323.88 329.76" y="478 477.5 478 478" rotate="0 27 0 0">1/10</text>
<text x="346.24 350.71 358.00 363.88" y="478 477.5 478 478" rotate="0 27 0 0">1/31</text>
<text x="381.53 386.00 393.29 399.18" y="478 477.5 478 478" rotate="0 27 0 0">2/21</text>
<text x="416.82 421.29 428.59 434.47" y="478 477.5 478 478" rotate="0 27 0 0">3/13</text>
<text x="453.88 458.35 465.65" y="478 477.5 478" rotate="0 27 0">4/3</text>
<text x="486.24 490.71 498.00 503.88" y="478 477.5 478 478" rotate="0 27 0 0">4/22</text>
<text x="521.53 526.00 533.29 539.18" y="478 477.5 478 478" rotate="0 27 0 0">5/20</text>
<text x="556.82 561.29 568.59 574.47" y="478 477.5 478 478" rotate="0 27 0 0">6/10</text>
<text x="593.88 598.35 605.65" y="478 477.5 478" rotate="0 27 0">7/1</text>
<text x="626.24 630.71 638.00 643.88" y="478 477.5 478 478" rotate="0 27 0 0">7/22</text>
<text x="661.53 666.00 673.29 679.18" y="478 477.5 478 478" rotate="0 27 0 0">8/11</text>
<text x="698.59 703.06 710.35" y="478 477.5 478" rotate="0 27 0">9/2</text>
<text x="730.94 735.41 742.71 748.59" y="478 477.5 478 478" rotate="0 27 0 0">9/22</text>
</g>
<g class="val" text-anchor="middle">
<text x="83.9" y="191.0">6277</text>
<text x="133.4" y="193.0">6237</text>
<text x="182.9" y="201.0">6069</text>
<text x="232.4" y="210.0">5859</text>
<text x="311.6" y="221.0">5637</text>
<text x="361.1" y="214.0">5773</text>
<text x="450.2" y="216.0">5733</text>
<text x="499.7" y="223.0">5580</text>
<text x="559.1" y="232.0">5390</text>
<text x="608.6" y="238.0">5260</text>
<text x="34.4" y="447.0">8</text>
<text x="93.8" y="442.0">9</text>
<text x="103.7" y="414.0">15</text>
<text x="182.9" y="419.0">14</text>
<text x="232.4" y="442.0">9</text>
<text x="281.9" y="451.0">7</text>
<text x="331.4" y="437.0">10</text>
<text x="380.9" y="442.0">9</text>
<text x="460.1" y="447.0">8</text>
<text x="519.5" y="442.0">9</text>
<text x="569.0" y="451.0">7</text>
</g>
</svg>
</body></html>
